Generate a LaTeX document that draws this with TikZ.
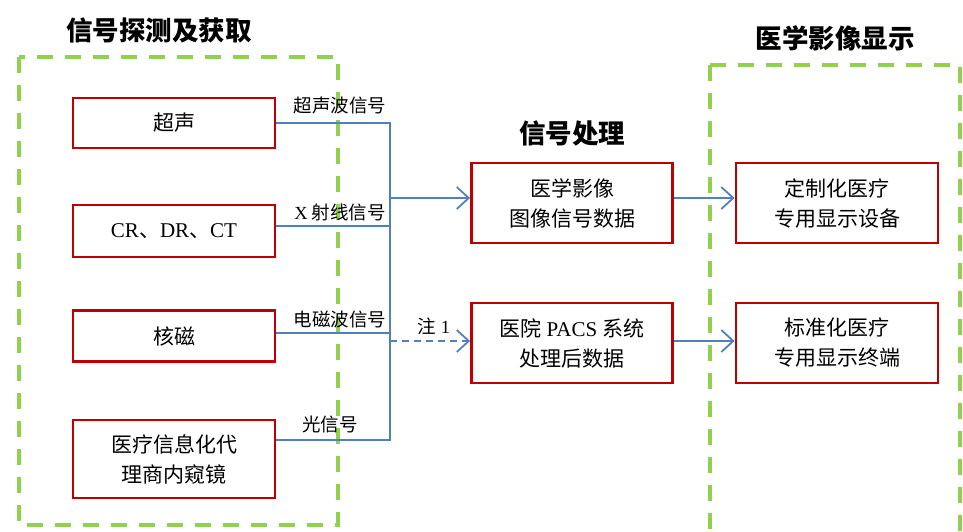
\documentclass[tikz,border=0pt]{standalone}
\usepackage{fontspec}
\setmainfont{Noto Sans CJK SC}
\newfontfamily\lat{Liberation Serif}
\usetikzlibrary{arrows.meta}
\definecolor{boxred}{HTML}{C00000}
\definecolor{grn}{HTML}{92D050}
\definecolor{blu}{HTML}{4F81BD}
\tikzset{
  redbox/.style={draw=boxred, line width=2.8pt, minimum width=202pt, inner sep=0pt, align=center, font=\fontsize{21}{30}\selectfont},
  grnframe/.style={draw=grn, line width=4.5pt, dash pattern=on 16pt off 12pt},
  blueline/.style={draw=blu, line width=1.4pt},
  bluearrow/.style={blueline, -{Straight Barb[length=12pt,width=22pt,line width=1.8pt]}},
  siglabel/.style={font=\fontsize{18.5}{20}\selectfont, inner sep=1pt},
  title/.style={font=\bfseries\fontsize{26.5}{28}\selectfont, inner sep=0pt}
}
\begin{document}
\begin{tikzpicture}[x=1pt,y=-1pt]
\useasboundingbox (0,0) rectangle (963,532);
\begin{scope}
\clip (0,0) rectangle (963,532);
% frames
\draw[grnframe] (19,57) rectangle (338,525);
\draw[grnframe] (710,65) -- (710,545) (710,65) -- (960,65) -- (960,545);
\end{scope}
% titles
\node[title] (t1) at (159,30) {信号探测及获取};
\node[title] (t2) at (572,133) {信号处理};
\node[title] (t3) at (835,38) {医学影像显示};
% left boxes
\node[redbox, minimum height=50pt] (us) at (174,123) {超声};
\node[redbox, minimum height=52pt] (cr) at (174,231) {{\lat CR}、{\lat DR}、{\lat CT}};
\node[redbox, minimum height=51pt] (mr) at (174,336) {核磁};
\node[redbox, minimum height=78pt] (en) at (174,459) {医疗信息化代\\理商内窥镜};
% middle boxes
\node[redbox, minimum width=201pt, minimum height=80pt] (img) at (572,203) {医学影像\\图像信号数据};
\node[redbox, minimum width=201pt, minimum height=80pt] (pacs) at (572,343) {医院{\lat\ PACS }系统\\处理后数据};
% right boxes
\node[redbox, minimum height=80pt] (dev) at (837,203) {定制化医疗\\专用显示设备};
\node[redbox, minimum height=80pt] (term) at (837,343) {标准化医疗\\专用显示终端};
% bus
\coordinate (busT) at (390,123);
\coordinate (busB) at (390,440);
\draw[blueline] (us.east) -- (busT) -- (busB) -- (en.east |- busB);
\draw[blueline] ([yshift=5pt]cr.east) -- ([yshift=5pt]cr.east -| busT);
\draw[blueline] ([yshift=3pt]mr.east) -- ([yshift=3pt]mr.east -| busT);
\draw[bluearrow] ([yshift=5pt]busT |- img.west) -- ([yshift=5pt]img.west);
\draw[bluearrow, dashed, dash pattern=on 7pt off 5pt] ([yshift=2pt]busT |- pacs.west) -- ([yshift=2pt]pacs.west);
\draw[bluearrow] ([yshift=5pt]img.east) -- ([yshift=5pt]dev.west);
\draw[bluearrow] ([yshift=2pt]pacs.east) -- ([yshift=2pt]term.west);
% labels
\node[siglabel, anchor=south] (l1) at (340,115) {超声波信号};
\node[siglabel, anchor=south] (l2) at (340,222) {{\lat X} 射线信号};
\node[siglabel, anchor=south] (l3) at (340,329) {电磁波信号};
\node[siglabel, anchor=south] (l4) at (330,434) {光信号};
\node[siglabel, anchor=south] (l5) at (434,336) {注{\lat\ 1}};
\end{tikzpicture}
\end{document}
